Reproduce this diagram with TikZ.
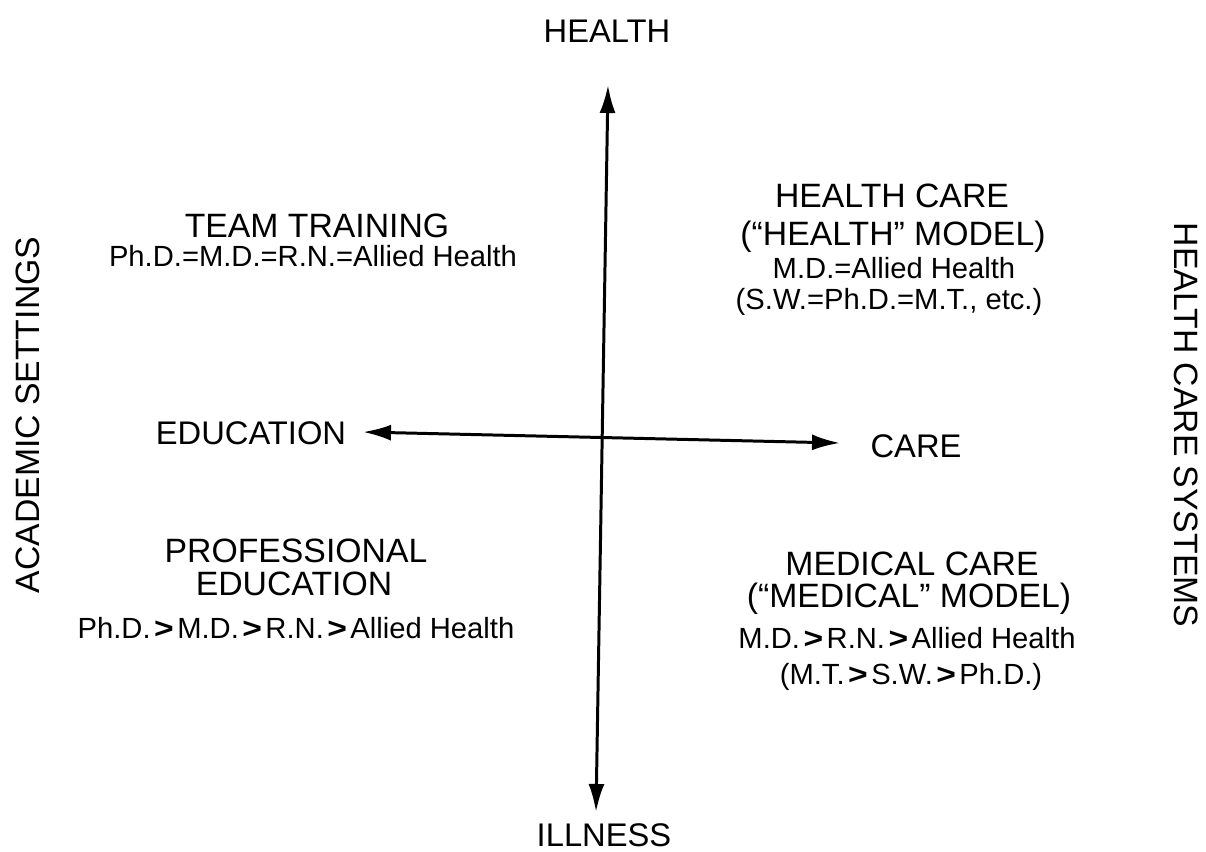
\documentclass[tikz,border=0pt]{standalone}
\usepackage{fontspec}
\setmainfont{Liberation Sans}
\usetikzlibrary{arrows.meta}
\newcommand{\grt}{\kern.12em\scalebox{1.15}[1]{\textbf{>}}\kern.12em}

\begin{document}
\begin{tikzpicture}[x=0.01cm, y=-0.01cm,
    head/.style={anchor=base, inner sep=0pt, font=\fontsize{9.6}{11}\selectfont},
    rank/.style={anchor=base, inner sep=0pt, font=\fontsize{8.3}{10}\selectfont},
    pole/.style={anchor=base, inner sep=0pt, font=\fontsize{9.3}{11}\selectfont},
    side/.style={inner sep=0pt, font=\fontsize{9.6}{11}\selectfont},
    axisline/.style={<->, line width=0.85pt},
    >={Latex[length=2.8mm,width=1.6mm]}]

  \useasboundingbox (0,0) rectangle (1206,851);

  % the two axes
  \node[pole] (health) at (607,42) {HEALTH};
  \node[pole] (illness) at (604,846) {ILLNESS};
  \node[pole] (edu) at (251,444) {EDUCATION};
  \node[pole] (care) at (916,457) {CARE};
  \coordinate (up) at (608,85);
  \coordinate (down) at (596,812);
  \coordinate (left) at (363,432);
  \coordinate (right) at (840,443);
  \draw[axisline] (up) -- (down);
  \draw[axisline] (left) -- (right);

  % settings at the sides
  \node[side, rotate=90] (acad) at (28,415) {ACADEMIC SETTINGS};
  \node[side, rotate=-90] (sys) at (1186,425) {HEALTH CARE SYSTEMS};

  % the four quadrants
  \node[head] (team) at (317,237) {TEAM TRAINING};
  \node[rank] (teamrank) at (313,266) {Ph.D.=M.D.=R.N.=Allied Health};

  \node[head] (hcare) at (892,207) {HEALTH CARE};
  \node[head] (hmodel) at (893,245) {(``HEALTH'' MODEL)};
  \node[rank] (hrank) at (894,278) {M.D.=Allied Health};
  \node[rank] (hsub) at (889,309) {(S.W.=Ph.D.=M.T., etc.)};

  \node[head] (prof) at (296,562) {PROFESSIONAL};
  \node[head] (profedu) at (294,595) {EDUCATION};
  \node[rank] (profrank) at (296,638) {Ph.D.\grt M.D.\grt R.N.\grt Allied Health};

  \node[head] (mcare) at (912,575) {MEDICAL CARE};
  \node[head] (mmodel) at (909,607) {(``MEDICAL'' MODEL)};
  \node[rank] (mrank) at (907,648) {M.D.\grt R.N.\grt Allied Health};
  \node[rank] (msub) at (911,684) {(M.T.\grt S.W.\grt Ph.D.)};
\end{tikzpicture}
\end{document}
